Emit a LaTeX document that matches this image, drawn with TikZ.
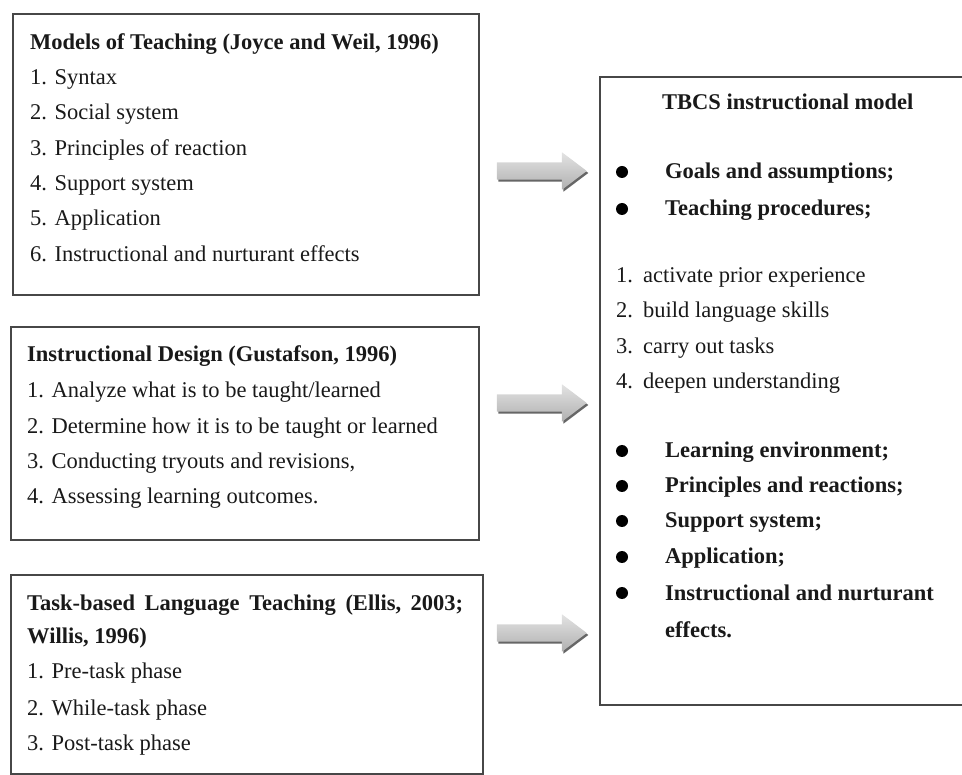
\documentclass[tikz,border=0pt]{standalone}
\usepackage{fontspec}
\setmainfont{Liberation Serif}
\usetikzlibrary{shapes.arrows,shadows}
\newcommand\fsz{\fontsize{22.5}{27}\selectfont}
\begin{document}
\begin{tikzpicture}[x=1pt,y=-1pt,
  frame/.style={draw=black!72, line width=1.6pt, rectangle, inner sep=0pt, anchor=north west},
  txt/.style={anchor=base west, inner sep=0pt, font=\fsz, text=black!90},
  btxt/.style={txt, font=\fsz\bfseries},
  dot/.style={circle, fill=black, inner sep=0pt, minimum size=12pt},
  blockarrow/.style={single arrow, inner xsep=0pt, inner ysep=8.5pt, minimum height=90pt,
    single arrow head extend=10pt, single arrow tip angle=74, draw=none,
    top color=gray!22, bottom color=gray!62,
    drop shadow={shadow xshift=1.5pt, shadow yshift=-2pt, fill=black!60, opacity=1}}
]
\useasboundingbox (0,0) rectangle (962,775);

% frames
\node[frame, minimum width=466pt, minimum height=281pt] (b1) at (12,13) {};
\node[frame, minimum width=468pt, minimum height=213pt] (b2) at (10,326) {};
\node[frame, minimum width=472pt, minimum height=199pt] (b3) at (10,574) {};
\node[frame, minimum width=370pt, minimum height=628pt] (r) at (599,76) {};

% box 1
\node[btxt] (t1) at (30,50) {Models of Teaching (Joyce and Weil, 1996)};
\node[txt] (t1a) at (30,85) {1. Syntax};
\node[txt] (t1b) at (30,120) {2. Social system};
\node[txt] (t1c) at (30,156) {3. Principles of reaction};
\node[txt] (t1d) at (30,191) {4. Support system};
\node[txt] (t1e) at (30,226) {5. Application};
\node[txt] (t1f) at (30,262) {6. Instructional and nurturant effects};

% box 2
\node[btxt] (t2) at (27,362) {Instructional Design (Gustafson, 1996)};
\node[txt] (t2a) at (27,398) {1. Analyze what is to be taught/learned};
\node[txt] (t2b) at (27,434) {2. Determine how it is to be taught or learned};
\node[txt] (t2c) at (27,469) {3. Conducting tryouts and revisions,};
\node[txt] (t2d) at (27,504) {4. Assessing learning outcomes.};

% box 3
\node[btxt] (t3) at (27,610) {\hbox to 436pt{Task-based\hfill Language\hfill Teaching\hfill (Ellis,\hfill 2003;}};
\node[btxt] (t3w) at (27,643) {Willis, 1996)};
\node[txt] (t3a) at (27,678) {1. Pre-task phase};
\node[txt] (t3b) at (27,715) {2. While-task phase};
\node[txt] (t3c) at (27,750) {3. Post-task phase};

% right box
\node[btxt] (rt) at (662,110) {TBCS instructional model};
\node[dot] (d1) at (622,172) {};
\node[btxt] (r1) at (665,179) {Goals and assumptions;};
\node[dot] (d2) at (622,209) {};
\node[btxt] (r2) at (665,216) {Teaching procedures;};
\node[txt] (n1) at (616,283) {1.};
\node[txt] (n1t) at (643,283) {activate prior experience};
\node[txt] (n2) at (616,318) {2.};
\node[txt] (n2t) at (643,318) {build language skills};
\node[txt] (n3) at (616,354) {3.};
\node[txt] (n3t) at (643,354) {carry out tasks};
\node[txt] (n4) at (616,389) {4.};
\node[txt] (n4t) at (643,389) {deepen understanding};
\node[dot] (d3) at (622,451) {};
\node[btxt] (r3) at (665,458) {Learning environment;};
\node[dot] (d4) at (622,486) {};
\node[btxt] (r4) at (665,493) {Principles and reactions;};
\node[dot] (d5) at (622,521) {};
\node[btxt] (r5) at (665,528) {Support system;};
\node[dot] (d6) at (622,557) {};
\node[btxt] (r6) at (665,564) {Application;};
\node[dot] (d7) at (622,593) {};
\node[btxt] (r7) at (665,600) {Instructional and nurturant};
\node[btxt] (r7b) at (665,637) {effects.};

% block arrows
\node[blockarrow] (a1) at (536,171) {};
\node[blockarrow] (a2) at (536,403) {};
\node[blockarrow] (a3) at (536,633) {};
\end{tikzpicture}
\end{document}
